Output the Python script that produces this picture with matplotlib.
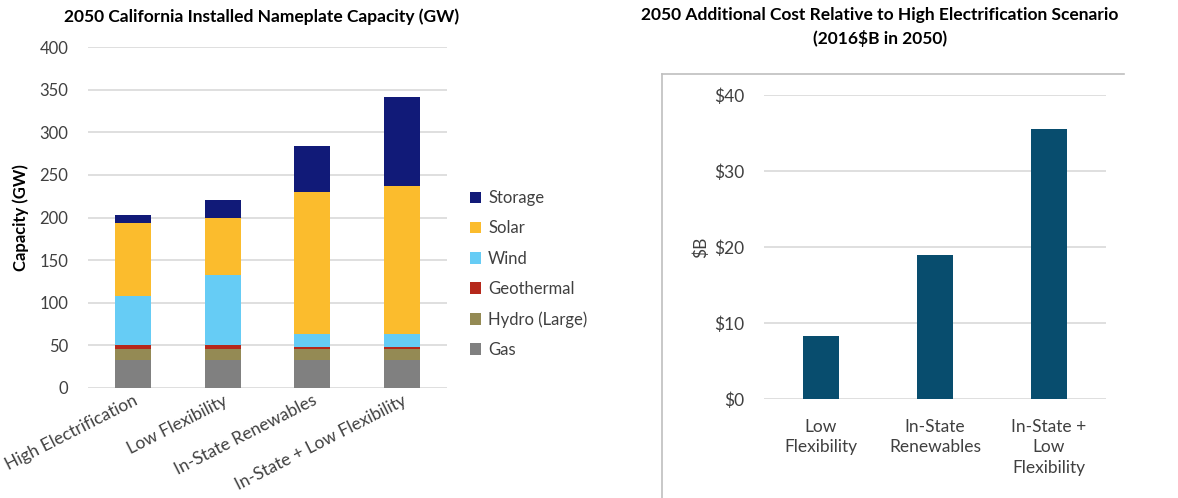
import matplotlib
matplotlib.use("Agg")
import matplotlib.pyplot as plt
from matplotlib.patches import Patch
from matplotlib.lines import Line2D
import numpy as np

plt.rcParams['font.family'] = ['Lato', 'DejaVu Sans']

# ---- data ----
scenarios = ["High Electrification", "Low Flexibility", "In-State Renewables", "In-State + Low Flexibility"]
gas = [33, 33, 33, 33]
hydro = [12, 12, 12, 12]
geothermal = [5, 5, 3, 3]
wind = [58, 82, 15.5, 15.5]
solar = [85, 68, 167, 174]
storage = [10, 20.5, 53, 104.5]

cost_labels = ["Low\nFlexibility", "In-State\nRenewables", "In-State +\nLow\nFlexibility"]
cost_values = [8.3, 19.0, 35.5]

series = [("Gas", gas, "#808080"),
          ("Hydro (Large)", hydro, "#948A54"),
          ("Geothermal", geothermal, "#B5281B"),
          ("Wind", wind, "#66CCF5"),
          ("Solar", solar, "#FBBC2D"),
          ("Storage", storage, "#111A78")]

fig = plt.figure(figsize=(11.78, 4.98), dpi=100)

# ---- left chart ----
ax1 = fig.add_axes([0.0747, 0.2215, 0.3048, 0.6835])
x = np.arange(len(scenarios))
bottom = np.zeros(len(scenarios))
for name, vals, col in series:
    ax1.bar(x, vals, width=0.4, bottom=bottom, color=col, zorder=3, label=name)
    bottom += np.array(vals)
ax1.set_xlim(-0.5, 3.5)
ax1.set_ylim(0, 400)
ax1.set_yticks(range(0, 401, 50))
ax1.grid(axis='y', color='#d9d9d9', linewidth=1.2, zorder=0)
for s in ax1.spines.values():
    s.set_visible(False)
ax1.tick_params(axis='both', length=0, labelsize=12, colors='#404040')
ax1.tick_params(axis='y', pad=14)
ax1.set_xticks(x)
ax1.set_xticklabels(scenarios, rotation=27, ha='right', rotation_mode='anchor', fontsize=12.5)
ax1.set_ylabel("Capacity (GW)", fontsize=12, fontweight='bold', labelpad=8)
fig.text(0.222, 0.966, "2050 California Installed Nameplate Capacity (GW)",
         ha='center', va='center', fontsize=12.5, fontweight='bold')

handles = [Patch(facecolor=col, edgecolor='none') for _, _, col in series][::-1]
labels = [name for name, _, _ in series][::-1]
fig.legend(handles, labels, loc='upper left', bbox_to_anchor=(0.386, 0.648),
           frameon=False, fontsize=12, handlelength=0.7, handleheight=0.7,
           handletextpad=0.4, labelspacing=0.85, labelcolor='#404040')

# ---- right chart ----
ax2 = fig.add_axes([0.6486, 0.198, 0.2903, 0.611])
x2 = np.arange(len(cost_labels))
ax2.bar(x2, cost_values, width=0.31, color="#084D6E", zorder=3)
ax2.set_xlim(-0.5, 2.5)
ax2.set_ylim(0, 40)
ax2.set_yticks(range(0, 41, 10))
ax2.set_yticklabels([f"${v}" for v in range(0, 41, 10)])
ax2.grid(axis='y', color='#d9d9d9', linewidth=1.2, zorder=0)
for s in ax2.spines.values():
    s.set_visible(False)
ax2.tick_params(axis='both', length=0, labelsize=12.5, colors='#404040')
ax2.tick_params(axis='y', pad=14)
ax2.tick_params(axis='x', pad=14)
ax2.set_xticks(x2)
ax2.set_xticklabels(cost_labels, fontsize=12.5, linespacing=1.35)
ax2.set_ylabel("$B", fontsize=12.5, color='#404040', labelpad=4)
fig.text(0.747, 0.946, "2050 Additional Cost Relative to High Electrification Scenario\n(2016$B in 2050)",
         ha='center', va='center', fontsize=12.5, fontweight='bold', linespacing=1.45)

# frame around right chart area
fig.add_artist(Line2D([0.562, 0.562], [0.0, 0.851], transform=fig.transFigure, color='#bfbfbf', linewidth=1.2))
fig.add_artist(Line2D([0.562, 0.954], [0.851, 0.851], transform=fig.transFigure, color='#bfbfbf', linewidth=1.2))

fig.savefig("out.png", dpi=100)
